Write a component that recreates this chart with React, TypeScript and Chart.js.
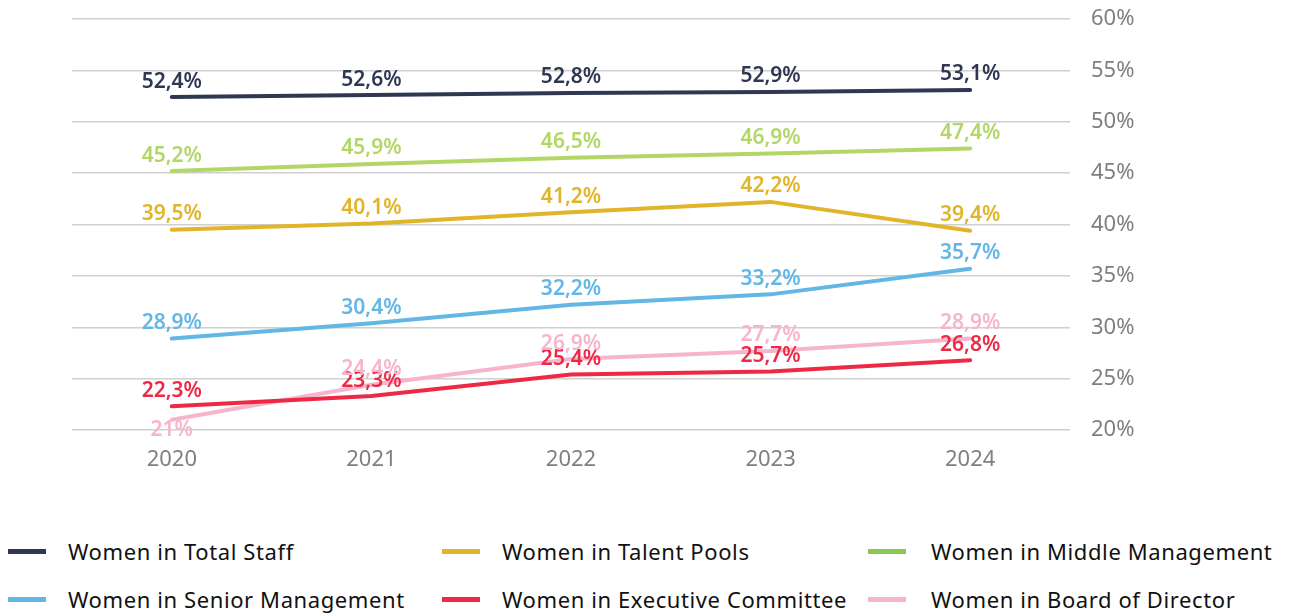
import React, { useEffect, useRef } from "react";
import { Chart, registerables } from "chart.js";

Chart.register(...registerables);

const years = ["2020", "2021", "2022", "2023", "2024"];
const totalStaff = [52.4, 52.6, 52.8, 52.9, 53.1];
const talentPools = [39.5, 40.1, 41.2, 42.2, 39.4];
const middleMgmt = [45.2, 45.9, 46.5, 46.9, 47.4];
const seniorMgmt = [28.9, 30.4, 32.2, 33.2, 35.7];
const execCommittee = [22.3, 23.3, 25.4, 25.7, 26.8];
const boardDirector = [21, 24.4, 26.9, 27.7, 28.9];

const seriesNames = [
  "Women in Total Staff",
  "Women in Talent Pools",
  "Women in Middle Management",
  "Women in Senior Management",
  "Women in Executive Committee",
  "Women in Board of Director",
];
const seriesData = [totalStaff, talentPools, middleMgmt, seniorMgmt, execCommittee, boardDirector];
const lineColors = ["#2f3752", "#e0b52a", "#b3d767", "#63b7e6", "#ee2946", "#f7b5cb"];
const legendColors = ["#2f3752", "#e0b52a", "#8cc751", "#63b7e6", "#ee2946", "#f7b5cb"];

const FONT = "'Noto Sans', 'Open Sans', sans-serif";

const fmt = (v: number) =>
  Number.isInteger(v) ? `${v}%` : `${v.toFixed(1).replace(".", ",")}%`;

const dataLabelPlugin = {
  id: "dataLabels",
  afterDatasetsDraw(chart: any) {
    const ctx = chart.ctx;
    ctx.save();
    ctx.font = `600 21px ${FONT}`;
    ctx.textAlign = "center";
    chart.data.datasets.forEach((ds: any, di: number) => {
      const meta = chart.getDatasetMeta(di);
      meta.data.forEach((pt: any, i: number) => {
        const v = ds.data[i];
        ctx.fillStyle = ds.borderColor;
        const below = di === 5 && i === 0;
        if (below) {
          ctx.textBaseline = "top";
          ctx.fillText(fmt(v), pt.x, pt.y + 0);
        } else {
          ctx.textBaseline = "bottom";
          ctx.fillText(fmt(v), pt.x, pt.y - 5);
        }
      });
    });
    ctx.restore();
  },
};

export default function App() {
  const ref = useRef<HTMLCanvasElement>(null);
  useEffect(() => {
    if (!ref.current) return;
    const chart = new Chart(ref.current, {
      type: "line",
      data: {
        labels: years,
        datasets: seriesData.map((d, i) => ({
          label: seriesNames[i],
          data: d,
          borderColor: lineColors[i],
          backgroundColor: lineColors[i],
          borderWidth: 4,
          borderCapStyle: "round",
          pointRadius: 0,
          tension: 0,
        })),
      },
      options: {
        animation: false,
        responsive: false,
        devicePixelRatio: 1,
        layout: { padding: { left: 64, top: 11, right: 0, bottom: 0 } },
        plugins: { legend: { display: false }, tooltip: { enabled: false } },
        scales: {
          x: {
            offset: true,
            grid: { display: false },
            border: { display: false },
            afterFit: (s: any) => {
              s.height = 58;
              s.paddingLeft = 0;
              s.paddingRight = 0;
            },
            ticks: { color: "#7f7f7f", font: { family: FONT, size: 22 }, padding: 9 },
          },
          y: {
            position: "right",
            min: 20,
            max: 60,
            afterFit: (s: any) => {
              s.width = 212;
              s.paddingTop = 0;
              s.paddingBottom = 0;
            },
            grid: { color: "#d0d0d0", lineWidth: 1.5, drawTicks: false },
            border: { display: false },
            ticks: {
              stepSize: 5,
              padding: 21,
              color: "#7f7f7f",
              font: { family: FONT, size: 22 },
              callback: (v: any) => `${v}%`,
            },
          },
        },
      },
      plugins: [dataLabelPlugin],
    });
    return () => chart.destroy();
  }, []);

  const colLeft = [0, 434, 860];
  const order = [
    [0, 1, 2],
    [3, 4, 5],
  ];
  return (
    <div style={{ fontFamily: FONT }}>
      <canvas ref={ref} width={1274} height={480} style={{ display: "block" }} />
      <div style={{ position: "relative", marginTop: 39, height: 96 }}>
        {order.map((row, r) =>
          row.map((si, c) => (
            <div
              key={si}
              style={{
                position: "absolute",
                left: colLeft[c],
                top: r * 48,
                height: 48,
                display: "flex",
                alignItems: "center",
                whiteSpace: "nowrap",
              }}
            >
              <span
                style={{
                  display: "inline-block",
                  width: 38,
                  height: 5,
                  background: legendColors[si],
                  marginRight: c === 2 ? 25 : 22,
                }}
              />
              <span style={{ fontSize: 22, letterSpacing: 0.6, color: "#111" }}>
                {seriesNames[si]}
              </span>
            </div>
          ))
        )}
      </div>
    </div>
  );
}
